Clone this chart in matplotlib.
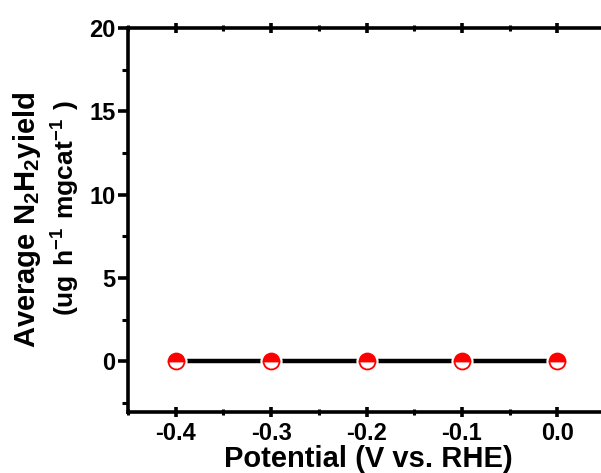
import matplotlib.pyplot as plt
from matplotlib.ticker import MultipleLocator

potential = [-0.4, -0.3, -0.2, -0.1, 0.0]
yield_n2h2 = [0, 0, 0, 0, 0]

plt.rcParams["font.family"] = ["Liberation Sans", "DejaVu Sans"]
plt.rcParams["font.weight"] = "bold"
plt.rcParams["mathtext.fontset"] = "custom"
plt.rcParams["mathtext.rm"] = "Liberation Sans:bold"
plt.rcParams["mathtext.default"] = "rm"

fig = plt.figure(figsize=(6.01, 4.73), dpi=100)
ax = fig.add_axes([128 / 601, 1 - 412 / 473, 480 / 601, 384 / 473])

# connecting line, with white halos under the markers to leave a gap
ax.plot(potential, yield_n2h2, color="black", lw=3.2, zorder=2)
ax.plot(potential, yield_n2h2, ls="none", marker="o", ms=15,
        mfc="white", mec="white", zorder=3)
ax.plot(potential, yield_n2h2, ls="none", marker="o", ms=11.5,
        fillstyle="top", mfc="red", mfcalt="white", mec="red", mew=1.3,
        zorder=4)

ax.set_xlim(-0.45, 0.053)
ax.set_ylim(-3.05, 20)
ax.xaxis.set_minor_locator(MultipleLocator(0.05))
ax.yaxis.set_major_locator(MultipleLocator(5))
ax.yaxis.set_minor_locator(MultipleLocator(2.5))
ax.set_xticks(potential)
ax.set_xticklabels(["-0.4", "-0.3", "-0.2", "-0.1", "0.0"])

for side in ["left", "bottom", "top"]:
    ax.spines[side].set_linewidth(2.6)
ax.spines["right"].set_visible(False)

ax.tick_params(axis="both", which="major", direction="out", length=7,
               width=2.6, labelsize=17, pad=2)
ax.tick_params(axis="both", which="minor", direction="out", length=4,
               width=2.2)
ax.tick_params(axis="x", which="both", top=True)
ax.tick_params(axis="x", which="both", direction="inout")
ax.tick_params(axis="x", which="major", pad=4)
for lbl in ax.get_xticklabels() + ax.get_yticklabels():
    lbl.set_fontweight("bold")

ax.set_xlabel("Potential (V vs. RHE)", fontsize=21, fontweight="bold",
              labelpad=0)

fig.text(0.045, 0.535, r"Average N$_2$H$_2$yield", rotation=90,
         fontsize=21, fontweight="bold", ha="center", va="center")
fig.text(0.11, 0.56, r"$\mathregular{(ug\ h^{-1}\ mgcat^{-1}\ )}$",
         rotation=90, fontsize=19, fontweight="bold", ha="center",
         va="center")

fig.savefig("out.png", dpi=100)
